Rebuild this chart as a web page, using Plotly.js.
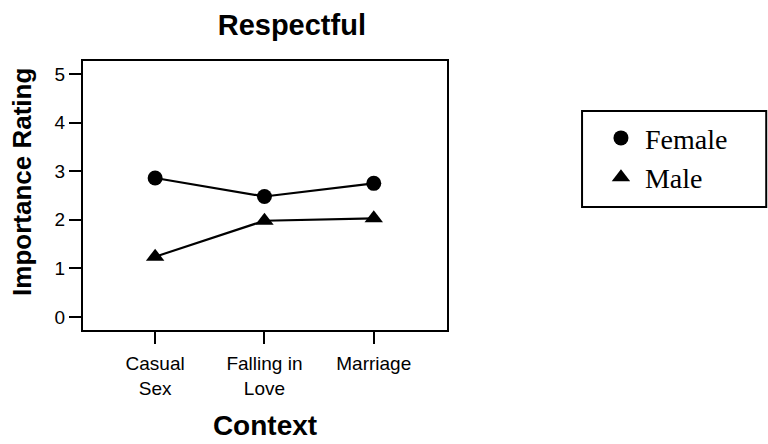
<!DOCTYPE html>
<html>
<head>
<meta charset="utf-8">
<script src="https://cdn.plot.ly/plotly-3.0.1.min.js"></script>
<style>html,body{margin:0;padding:0;background:#fff;}#chart{width:768px;height:444px;}</style>
</head>
<body>
<div id="chart"></div>
<script>
const contexts = ["Casual<br>Sex", "Falling in<br>Love", "Marriage"];
const femaleRatings = [2.86, 2.48, 2.75];
const maleRatings = [1.24, 1.98, 2.03];
const yTicks = [0, 1, 2, 3, 4, 5];
const xPos = [0, 1, 2];

const traces = [
  {x: xPos, y: femaleRatings, name: "Female", type: "scatter", mode: "lines",
   line: {color: "#000", width: 2.2}, showlegend: false, hoverinfo: "skip"},
  {x: xPos, y: maleRatings, name: "Male", type: "scatter", mode: "lines",
   line: {color: "#000", width: 2.2}, showlegend: false, hoverinfo: "skip"},
  {x: xPos, y: femaleRatings, name: "Female", type: "scatter", mode: "markers",
   marker: {symbol: "circle", size: 15, color: "#000"}},
  {x: xPos, y: maleRatings, name: "Male", type: "scatter", mode: "markers",
   marker: {symbol: "triangle-up", size: 16, color: "#000"}}
];

const layout = {
  width: 768, height: 444,
  margin: {l: 83, r: 321, t: 61, b: 114},
  paper_bgcolor: "#fff", plot_bgcolor: "#fff",
  font: {family: "Liberation Sans, Arial, sans-serif", color: "#000"},
  title: {text: "<b>Respectful</b>", font: {size: 29, color: "#000"}, x: 0.38, xanchor: "center", y: 0.945, yanchor: "middle"},
  xaxis: {
    range: [-0.66, 2.67], tickvals: xPos, ticktext: contexts,
    showline: true, linecolor: "#000", linewidth: 2, mirror: true,
    ticks: "outside", ticklen: 12, tickwidth: 2, tickcolor: "#000",
    showgrid: false, zeroline: false, tickfont: {size: 19}, ticklabelstandoff: 3,
    title: {text: "<b>Context</b>", font: {size: 28}, standoff: 18}
  },
  yaxis: {
    range: [-0.27, 5.27], tickvals: yTicks,
    showline: true, linecolor: "#000", linewidth: 2, mirror: true,
    ticks: "outside", ticklen: 12, tickwidth: 2, tickcolor: "#000",
    showgrid: false, zeroline: false, tickfont: {size: 19}
  },
  annotations: [{
    text: "<b>Importance Rating</b>", textangle: -90, showarrow: false,
    xref: "paper", yref: "paper", x: -0.168, y: 0.55, xanchor: "center", yanchor: "middle",
    font: {size: 26, color: "#000"}
  }],
  shapes: [{
    type: "rect", xref: "paper", yref: "paper",
    x0: 1.371, x1: 1.877, y0: 0.457, y1: 0.814,
    line: {color: "#000", width: 2}, fillcolor: "rgba(0,0,0,0)", layer: "below"
  }],
  showlegend: true,
  legend: {
    x: 1.412, xanchor: "left", y: 0.806, yanchor: "top",
    borderwidth: 0, bgcolor: "rgba(0,0,0,0)",
    font: {family: "Liberation Serif, Times New Roman, serif", size: 28, color: "#000"},
    itemwidth: 38
  }
};

Plotly.newPlot("chart", traces, layout, {displayModeBar: false, staticPlot: true});
</script>
</body>
</html>
